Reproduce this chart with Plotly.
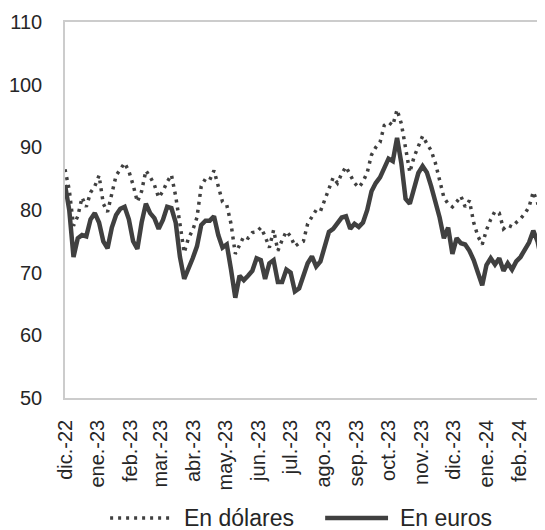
import pandas as pd
import plotly.graph_objects as go

# Values, one every 4 days starting 1 Dec 2022
usd = [
    86.5, 83.2, 77.5, 79.0, 82.0, 80.5, 82.8, 83.8, 85.5, 81.0,
    79.7, 82.5, 85.5, 86.5, 87.5, 86.2, 84.0, 81.3, 83.0, 86.3,
    85.3, 84.0, 82.0, 83.0, 84.5, 85.6, 82.2, 77.8, 73.2, 75.5,
    76.8, 78.8, 83.8, 85.0, 84.8, 86.3, 84.0, 81.3, 80.8, 77.8,
    73.0, 74.5, 75.8, 75.5, 76.4, 76.5, 77.2, 75.8, 74.0, 76.8,
    73.5, 75.2, 76.6, 75.8, 74.2, 74.7, 75.0, 77.8, 79.0, 80.0,
    79.8, 81.8, 83.4, 85.2, 84.3, 85.8, 86.9, 85.6, 84.3, 83.6,
    84.5, 86.0, 88.8, 90.0, 90.8, 93.5, 94.0, 93.5, 96.0, 93.8,
    89.5, 86.0, 88.5, 90.0, 91.8, 90.6, 89.5, 87.5, 85.0, 82.0,
    81.0, 80.5, 81.3, 82.2, 80.5, 81.5, 78.0, 75.8, 74.5, 76.8,
    78.5, 79.8, 79.5, 77.0, 77.6, 77.3, 78.0, 78.6, 79.4, 80.5,
    82.9, 81.2, 78.5, 80.8,
]
eur = [
    84.0, 80.0, 72.5, 75.5, 76.0, 75.8, 78.5, 79.5, 78.0, 75.0,
    73.9, 77.2, 79.2, 80.2, 80.5, 78.5, 75.0, 73.8, 78.0, 81.0,
    79.5, 78.7, 77.0, 78.4, 80.5, 80.3, 78.0, 72.5, 69.0, 70.5,
    72.3, 74.2, 77.6, 78.3, 78.3, 79.0, 76.0, 74.0, 74.5, 70.5,
    66.0, 69.5, 68.8, 69.5, 70.3, 72.3, 72.0, 69.0, 71.5, 72.0,
    68.5, 68.5, 70.5, 70.0, 67.0, 67.5, 69.5, 71.5, 72.6, 71.0,
    71.8, 74.5, 76.5, 77.0, 77.8, 78.8, 79.0, 77.0, 77.8, 77.3,
    78.0, 80.0, 83.0, 84.3, 85.2, 86.8, 88.2, 87.8, 91.5, 87.5,
    81.8, 81.0, 83.5, 85.9, 87.0, 86.0, 83.8, 81.3, 78.8, 75.5,
    77.2, 73.0, 75.5, 74.7, 74.5, 73.5, 72.0, 70.0, 68.0, 71.2,
    72.3, 71.3, 72.3, 70.3, 71.5, 70.5, 71.8, 72.5, 73.5, 74.8,
    76.7, 75.0, 71.8, 74.5,
]
dates = pd.date_range("2022-12-01", periods=len(usd), freq="4D")

month_ticks = [
    "2022-12-01", "2023-01-01", "2023-02-01", "2023-03-01", "2023-04-01",
    "2023-05-01", "2023-06-01", "2023-07-01", "2023-08-01", "2023-09-01",
    "2023-10-01", "2023-11-01", "2023-12-01", "2024-01-01", "2024-02-01",
]
month_labels = [
    "dic.-22", "ene.-23", "feb.-23", "mar.-23", "abr.-23", "may.-23", "jun.-23",
    "jul.-23", "ago.-23", "sep.-23", "oct.-23", "nov.-23", "dic.-23", "ene.-24",
    "feb.-24",
]
series_names = ["En dólares", "En euros"]

LINE = "#404040"
TXT = "#262626"
FONT = "Liberation Sans, Arial, sans-serif"

fig = go.Figure()
fig.add_trace(go.Scatter(x=dates, y=usd, mode="lines", name=series_names[0],
                         line=dict(color=LINE, width=3.5, dash="3px,5px"),
                         showlegend=False))
fig.add_trace(go.Scatter(x=dates, y=eur, mode="lines", name=series_names[1],
                         line=dict(color=LINE, width=4.5),
                         showlegend=False))

# manual legend (long samples as in the reference)
fig.add_shape(type="line", xref="paper", yref="paper", x0=0.094, x1=0.223,
              y0=-0.319, y1=-0.319, line=dict(color=LINE, width=3.5, dash="3px,5px"))
fig.add_shape(type="line", xref="paper", yref="paper", x0=0.542, x1=0.673,
              y0=-0.319, y1=-0.319, line=dict(color=LINE, width=4.5))
fig.add_annotation(xref="paper", yref="paper", x=0.243, y=-0.319, text=series_names[0],
                   showarrow=False, xanchor="left", yanchor="middle",
                   font=dict(size=23, color=TXT, family=FONT))
fig.add_annotation(xref="paper", yref="paper", x=0.693, y=-0.319, text=series_names[1],
                   showarrow=False, xanchor="left", yanchor="middle",
                   font=dict(size=23, color=TXT, family=FONT))

# the page body adds an 8px offset, so the figure is 8px smaller and margins shifted
fig.update_layout(
    width=537, height=522,
    margin=dict(l=57, r=0, t=14, b=132),
    paper_bgcolor="white", plot_bgcolor="white",
    font=dict(family=FONT, size=20, color=TXT),
    showlegend=False,
)
fig.update_xaxes(
    type="date", range=["2022-12-01", "2024-02-25"],
    tickvals=month_ticks, ticktext=month_labels, tickangle=-90,
    showgrid=False, zeroline=False,
    showline=True, linecolor="#cccccc", linewidth=1.5, mirror=True,
    ticks="", ticklabelstandoff=12,
    tickfont=dict(size=20, color=TXT, family=FONT),
)
fig.update_yaxes(
    range=[50, 110], tickvals=[50, 60, 70, 80, 90, 100, 110],
    showgrid=False, zeroline=False,
    showline=True, linecolor="#cccccc", linewidth=1.5,
    ticks="", ticklabelstandoff=17,
    tickfont=dict(size=20, color=TXT, family=FONT),
)

fig.write_html("out.html")
